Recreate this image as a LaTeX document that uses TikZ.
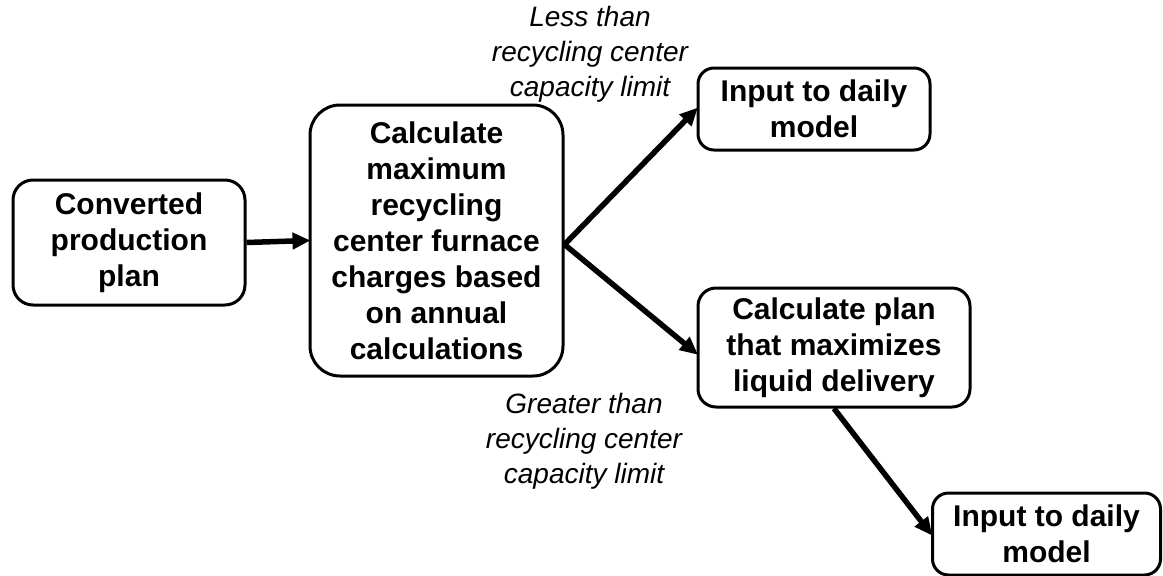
\documentclass[tikz,border=0pt]{standalone}
\usepackage{fontspec}
\setmainfont{Liberation Sans}
\usetikzlibrary{arrows.meta}
\begin{document}
\begin{tikzpicture}[x=1pt,y=-1pt,
  box/.style={draw, line width=3pt, rounded corners=16pt, align=center,
    font=\fontsize{30}{36}\selectfont\bfseries, inner sep=0pt},
  lbl/.style={align=center, font=\fontsize{28}{35}\selectfont\itshape, inner sep=0pt},
  conn/.style={line width=5.5pt, -{Triangle[length=18pt,width=16pt]}, shorten >=-2pt}]
\useasboundingbox (0,0) rectangle (1163,576);
\node[box, minimum width=232pt, minimum height=125pt, rounded corners=20pt] (A) at (129,242.5) {Converted\\production\\plan};
\node[box, minimum width=253pt, minimum height=271pt, rounded corners=30pt] (B) at (436.5,240.5) {Calculate\\maximum\\recycling\\center furnace\\charges based\\on annual\\calculations};
\node[box, minimum width=232pt, minimum height=82pt] (C) at (814,109) {Input to daily\\model};
\node[box, minimum width=272pt, minimum height=119pt, rounded corners=18pt] (D) at (834,347.5) {Calculate plan\\that maximizes\\liquid delivery};
\node[box, minimum width=228pt, minimum height=82pt] (E) at (1046.5,534) {Input to daily\\model};
\node[lbl] (L1) at (590,54) {Less than\\recycling center\\capacity limit};
\node[lbl] (L2) at (584,441) {Greater than\\recycling center\\capacity limit};
\coordinate (b1) at ([yshift=-4pt]B.east);
\draw[conn] (A.east) -- (B.west);
\draw[conn] (b1) -- (C.west);
\draw[conn] (b1) -- ([yshift=-6pt]D.west);
\draw[conn] (D.south) -- (E.west);
\end{tikzpicture}
\end{document}
